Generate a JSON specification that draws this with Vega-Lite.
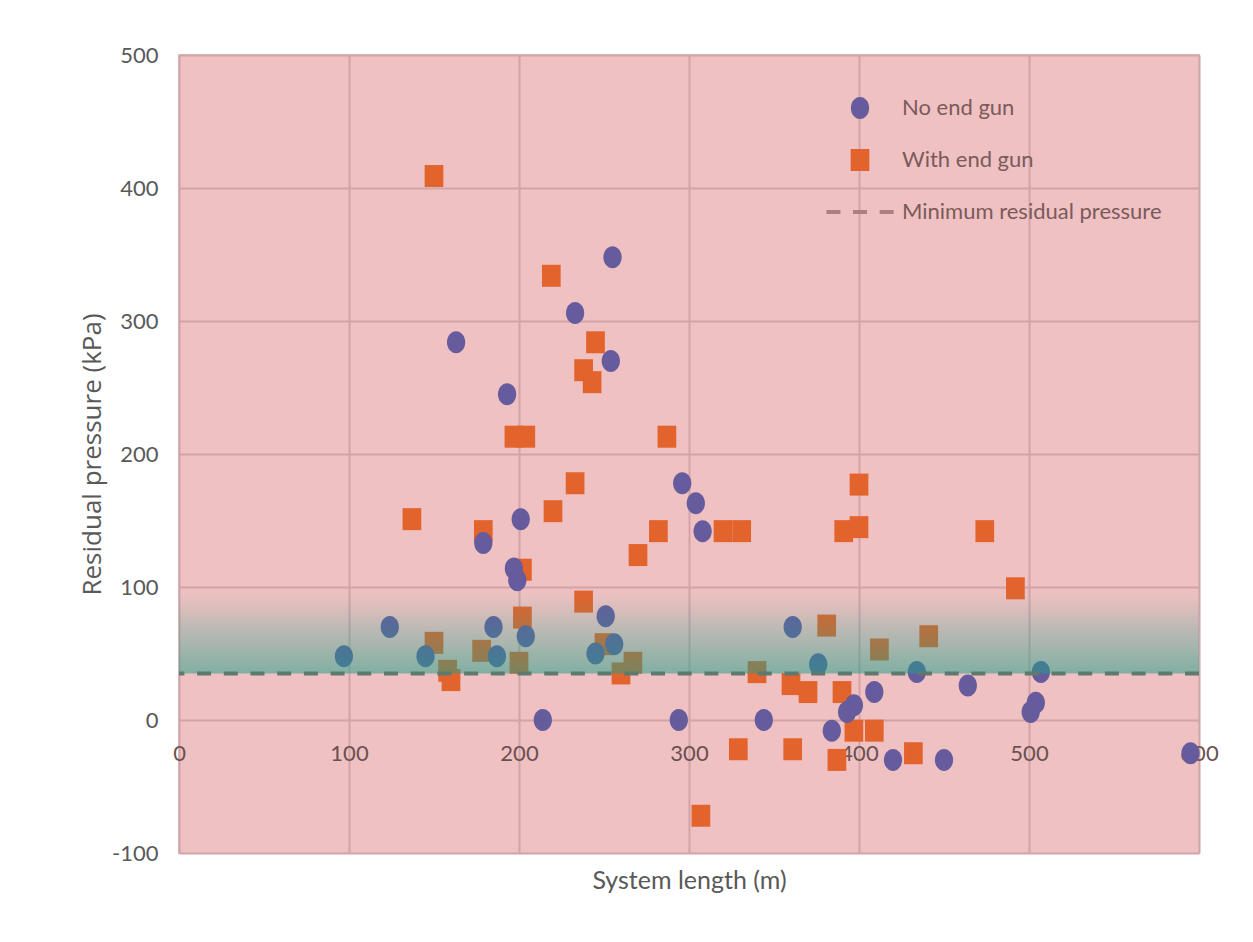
{
  "$schema": "https://vega.github.io/schema/vega-lite/v6.json",
  "width": 1020,
  "height": 798,
  "autosize": {"type": "none"},
  "padding": {"left": 179, "top": 55, "right": 54, "bottom": 89},
  "background": "white",
  "config": {
    "view": {"fill": "#efc1c2", "stroke": "#d9c6c6", "strokeWidth": 2},
    "axis": {"gridColor": "#d3a4a7", "gridWidth": 2, "domain": false, "ticks": false, "labelFont": "Lato", "labelFontSize": 22, "labelColor": "#595959", "titleFontWeight": "normal", "titleColor": "#595959"}
  },
  "datasets": {
    "pts": [
      {"len": 150, "p": 409, "type": "With end gun"},
      {"len": 219, "p": 334, "type": "With end gun"},
      {"len": 245, "p": 284, "type": "With end gun"},
      {"len": 238, "p": 263, "type": "With end gun"},
      {"len": 243, "p": 254, "type": "With end gun"},
      {"len": 197, "p": 213, "type": "With end gun"},
      {"len": 204, "p": 213, "type": "With end gun"},
      {"len": 287, "p": 213, "type": "With end gun"},
      {"len": 137, "p": 151, "type": "With end gun"},
      {"len": 179, "p": 142, "type": "With end gun"},
      {"len": 233, "p": 178, "type": "With end gun"},
      {"len": 220, "p": 157, "type": "With end gun"},
      {"len": 202, "p": 113, "type": "With end gun"},
      {"len": 282, "p": 142, "type": "With end gun"},
      {"len": 270, "p": 124, "type": "With end gun"},
      {"len": 320, "p": 142, "type": "With end gun"},
      {"len": 331, "p": 142, "type": "With end gun"},
      {"len": 400, "p": 177, "type": "With end gun"},
      {"len": 391, "p": 142, "type": "With end gun"},
      {"len": 400, "p": 145, "type": "With end gun"},
      {"len": 492, "p": 99, "type": "With end gun"},
      {"len": 238, "p": 89, "type": "With end gun"},
      {"len": 202, "p": 77, "type": "With end gun"},
      {"len": 250, "p": 57, "type": "With end gun"},
      {"len": 150, "p": 58, "type": "With end gun"},
      {"len": 178, "p": 52, "type": "With end gun"},
      {"len": 200, "p": 43, "type": "With end gun"},
      {"len": 267, "p": 43, "type": "With end gun"},
      {"len": 158, "p": 37, "type": "With end gun"},
      {"len": 160, "p": 30, "type": "With end gun"},
      {"len": 260, "p": 35, "type": "With end gun"},
      {"len": 340, "p": 36, "type": "With end gun"},
      {"len": 381, "p": 71, "type": "With end gun"},
      {"len": 412, "p": 53, "type": "With end gun"},
      {"len": 441, "p": 63, "type": "With end gun"},
      {"len": 474, "p": 142, "type": "With end gun"},
      {"len": 360, "p": 27, "type": "With end gun"},
      {"len": 370, "p": 21, "type": "With end gun"},
      {"len": 390, "p": 21, "type": "With end gun"},
      {"len": 397, "p": -8, "type": "With end gun"},
      {"len": 409, "p": -8, "type": "With end gun"},
      {"len": 329, "p": -22, "type": "With end gun"},
      {"len": 361, "p": -22, "type": "With end gun"},
      {"len": 387, "p": -30, "type": "With end gun"},
      {"len": 432, "p": -25, "type": "With end gun"},
      {"len": 307, "p": -72, "type": "With end gun"},
      {"len": 163, "p": 284, "type": "No end gun"},
      {"len": 255, "p": 348, "type": "No end gun"},
      {"len": 233, "p": 306, "type": "No end gun"},
      {"len": 254, "p": 270, "type": "No end gun"},
      {"len": 193, "p": 245, "type": "No end gun"},
      {"len": 201, "p": 151, "type": "No end gun"},
      {"len": 179, "p": 133, "type": "No end gun"},
      {"len": 197, "p": 114, "type": "No end gun"},
      {"len": 199, "p": 105, "type": "No end gun"},
      {"len": 296, "p": 178, "type": "No end gun"},
      {"len": 304, "p": 163, "type": "No end gun"},
      {"len": 308, "p": 142, "type": "No end gun"},
      {"len": 97, "p": 48, "type": "No end gun"},
      {"len": 124, "p": 70, "type": "No end gun"},
      {"len": 145, "p": 48, "type": "No end gun"},
      {"len": 185, "p": 70, "type": "No end gun"},
      {"len": 187, "p": 48, "type": "No end gun"},
      {"len": 204, "p": 63, "type": "No end gun"},
      {"len": 214, "p": 0, "type": "No end gun"},
      {"len": 251, "p": 78, "type": "No end gun"},
      {"len": 256, "p": 57, "type": "No end gun"},
      {"len": 245, "p": 50, "type": "No end gun"},
      {"len": 294, "p": 0, "type": "No end gun"},
      {"len": 344, "p": 0, "type": "No end gun"},
      {"len": 361, "p": 70, "type": "No end gun"},
      {"len": 376, "p": 42, "type": "No end gun"},
      {"len": 393, "p": 6, "type": "No end gun"},
      {"len": 397, "p": 11, "type": "No end gun"},
      {"len": 409, "p": 21, "type": "No end gun"},
      {"len": 384, "p": -8, "type": "No end gun"},
      {"len": 420, "p": -30, "type": "No end gun"},
      {"len": 434, "p": 36, "type": "No end gun"},
      {"len": 450, "p": -30, "type": "No end gun"},
      {"len": 464, "p": 26, "type": "No end gun"},
      {"len": 507, "p": 36, "type": "No end gun"},
      {"len": 504, "p": 13, "type": "No end gun"},
      {"len": 501, "p": 6, "type": "No end gun"},
      {"len": 595, "p": -25, "type": "No end gun"}
    ],
    "band": [{"lo": 35, "hi": 100}],
    "minimum": [{"minp": 35}]
  },
  "layer": [
    {
      "data": {"name": "pts"},
      "mark": {"type": "point", "filled": true, "opacity": 1, "size": 484, "strokeWidth": 0},
      "encoding": {
        "x": {
          "field": "len", "type": "quantitative",
          "scale": {"domain": [0, 600], "nice": false, "zero": false},
          "axis": {"values": [0, 100, 200, 300, 400, 500, 600], "offset": -133, "labelPadding": 23, "labelFlush": false, "labelOverlap": false, "labelColor": "#6b5050", "title": "System length (m)", "titleFont": "Lato", "titleFontSize": 25, "titleY": 160, "titleBaseline": "middle"}
        },
        "y": {
          "field": "p", "type": "quantitative",
          "scale": {"domain": [-100, 500], "nice": false, "zero": false},
          "axis": {"values": [-100, 0, 100, 200, 300, 400, 500], "labelExpr": "'' + datum.value", "labelPadding": 21, "title": "Residual pressure (kPa)", "titleFont": "Open Sans", "titleFontSize": 26, "titleX": -87, "titleBaseline": "middle"}
        },
        "shape": {
          "field": "type", "type": "nominal",
          "scale": {
            "domain": ["No end gun", "With end gun", "Minimum residual pressure"],
            "range": [
              "M0,-1 A0.83,1 0 1,1 0,1 A0.83,1 0 1,1 0,-1 Z",
              "M-0.85,-1 H0.85 V1 H-0.85 Z",
              "M-3.05,-0.18 H-1.78 V0.18 H-3.05 Z M-0.64,-0.18 H0.64 V0.18 H-0.64 Z M1.79,-0.18 H3.06 V0.18 H1.79 Z"
            ]
          },
          "legend": {
            "title": null, "orient": "none", "legendX": 670, "legendY": 42,
            "symbolSize": 484, "symbolStrokeWidth": 0, "labelFont": "Lato", "labelFontSize": 22, "labelLimit": 500,
            "labelColor": "#7b5a5a", "labelOffset": 31, "rowPadding": 30, "padding": 0
          }
        },
        "color": {
          "field": "type", "type": "nominal",
          "scale": {
            "domain": ["No end gun", "With end gun", "Minimum residual pressure"],
            "range": ["#665c9d", "#e3632c", "#aa8082"]
          },
          "legend": {
            "title": null, "orient": "none", "legendX": 670, "legendY": 42,
            "symbolSize": 484, "symbolStrokeWidth": 0, "labelFont": "Lato", "labelFontSize": 22, "labelLimit": 500,
            "labelColor": "#7b5a5a", "labelOffset": 31, "rowPadding": 30, "padding": 0
          }
        }
      }
    },
    {
      "data": {"name": "band"},
      "mark": {
        "type": "rect",
        "color": {
          "gradient": "linear", "x1": 0, "y1": 0, "x2": 0, "y2": 1,
          "stops": [
            {"offset": 0, "color": "rgba(30,160,135,0)"},
            {"offset": 0.12, "color": "rgba(30,160,135,0.03)"},
            {"offset": 0.5, "color": "rgba(30,160,135,0.25)"},
            {"offset": 1, "color": "rgba(30,160,135,0.53)"}
          ]
        }
      },
      "encoding": {
        "y": {"field": "hi", "type": "quantitative"},
        "y2": {"field": "lo"}
      }
    },
    {
      "data": {"name": "minimum"},
      "mark": {"type": "rule", "stroke": "#5e7a70", "strokeWidth": 4, "strokeDash": [14, 12.7], "strokeCap": "butt"},
      "encoding": {"y": {"field": "minp", "type": "quantitative"}}
    }
  ]
}
